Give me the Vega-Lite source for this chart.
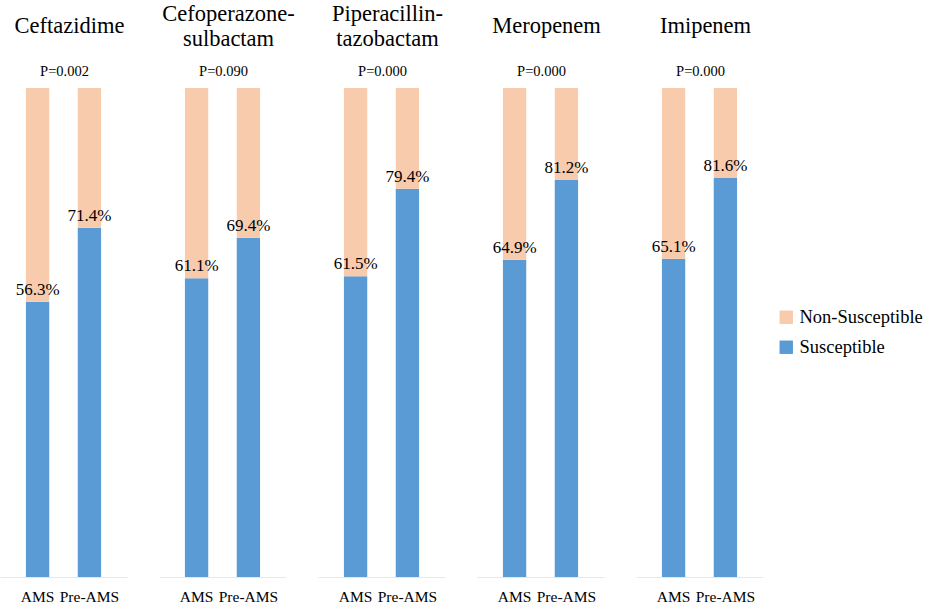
{
  "$schema": "https://vega.github.io/schema/vega-lite/v6.json",
  "padding": {"left": 0, "top": 3, "right": 0, "bottom": 0},
  "background": "white",
  "data": {
    "values": [
      {"drug": "Ceftazidime", "title": "Ceftazidime", "p": "P=0.002", "group": "AMS", "status": "Susceptible", "value": 0.563},
      {"drug": "Ceftazidime", "title": "Ceftazidime", "p": "P=0.002", "group": "AMS", "status": "Non-Susceptible", "value": 0.437},
      {"drug": "Ceftazidime", "title": "Ceftazidime", "p": "P=0.002", "group": "Pre-AMS", "status": "Susceptible", "value": 0.714},
      {"drug": "Ceftazidime", "title": "Ceftazidime", "p": "P=0.002", "group": "Pre-AMS", "status": "Non-Susceptible", "value": 0.286},
      {"drug": "Cefoperazone-sulbactam", "title": ["Cefoperazone-", "sulbactam"], "p": "P=0.090", "group": "AMS", "status": "Susceptible", "value": 0.611},
      {"drug": "Cefoperazone-sulbactam", "title": ["Cefoperazone-", "sulbactam"], "p": "P=0.090", "group": "AMS", "status": "Non-Susceptible", "value": 0.389},
      {"drug": "Cefoperazone-sulbactam", "title": ["Cefoperazone-", "sulbactam"], "p": "P=0.090", "group": "Pre-AMS", "status": "Susceptible", "value": 0.694},
      {"drug": "Cefoperazone-sulbactam", "title": ["Cefoperazone-", "sulbactam"], "p": "P=0.090", "group": "Pre-AMS", "status": "Non-Susceptible", "value": 0.306},
      {"drug": "Piperacillin-tazobactam", "title": ["Piperacillin-", "tazobactam"], "p": "P=0.000", "group": "AMS", "status": "Susceptible", "value": 0.615},
      {"drug": "Piperacillin-tazobactam", "title": ["Piperacillin-", "tazobactam"], "p": "P=0.000", "group": "AMS", "status": "Non-Susceptible", "value": 0.385},
      {"drug": "Piperacillin-tazobactam", "title": ["Piperacillin-", "tazobactam"], "p": "P=0.000", "group": "Pre-AMS", "status": "Susceptible", "value": 0.794},
      {"drug": "Piperacillin-tazobactam", "title": ["Piperacillin-", "tazobactam"], "p": "P=0.000", "group": "Pre-AMS", "status": "Non-Susceptible", "value": 0.206},
      {"drug": "Meropenem", "title": "Meropenem", "p": "P=0.000", "group": "AMS", "status": "Susceptible", "value": 0.649},
      {"drug": "Meropenem", "title": "Meropenem", "p": "P=0.000", "group": "AMS", "status": "Non-Susceptible", "value": 0.351},
      {"drug": "Meropenem", "title": "Meropenem", "p": "P=0.000", "group": "Pre-AMS", "status": "Susceptible", "value": 0.812},
      {"drug": "Meropenem", "title": "Meropenem", "p": "P=0.000", "group": "Pre-AMS", "status": "Non-Susceptible", "value": 0.188},
      {"drug": "Imipenem", "title": "Imipenem", "p": "P=0.000", "group": "AMS", "status": "Susceptible", "value": 0.651},
      {"drug": "Imipenem", "title": "Imipenem", "p": "P=0.000", "group": "AMS", "status": "Non-Susceptible", "value": 0.349},
      {"drug": "Imipenem", "title": "Imipenem", "p": "P=0.000", "group": "Pre-AMS", "status": "Susceptible", "value": 0.816},
      {"drug": "Imipenem", "title": "Imipenem", "p": "P=0.000", "group": "Pre-AMS", "status": "Non-Susceptible", "value": 0.184}
    ]
  },
  "facet": {
    "column": {
      "field": "drug",
      "type": "nominal",
      "sort": ["Ceftazidime", "Cefoperazone-sulbactam", "Piperacillin-tazobactam", "Meropenem", "Imipenem"],
      "header": null
    }
  },
  "bounds": "flush",
  "spacing": 32,
  "spec": {
    "width": 127,
    "height": 489,
    "layer": [
      {
        "mark": {"type": "bar"},
        "encoding": {
          "x": {
            "field": "group",
            "type": "nominal",
            "sort": ["AMS", "Pre-AMS"],
            "scale": {"paddingInner": 0.55, "paddingOuter": 0.5},
            "axis": {
              "title": null,
              "labelAngle": 0,
              "ticks": false,
              "domainColor": "#e8e8e8",
              "labelFont": "Times New Roman, Liberation Serif, DejaVu Serif, serif",
              "labelFontSize": 15.5,
              "labelColor": "black",
              "labelPadding": 12
            }
          },
          "y": {"field": "value", "type": "quantitative", "stack": "zero", "scale": {"domain": [0, 1], "nice": false}, "axis": null},
          "color": {
            "field": "status",
            "type": "nominal",
            "scale": {"domain": ["Non-Susceptible", "Susceptible"], "range": ["#F8CBAD", "#5B9BD5"]},
            "legend": {
              "orient": "none",
              "legendX": 777,
              "legendY": 220,
              "title": null,
              "symbolType": "square",
              "symbolSize": 180,
              "symbolStrokeWidth": 0,
              "labelFont": "Times New Roman, Liberation Serif, DejaVu Serif, serif",
              "labelFontSize": 18.5,
              "labelColor": "black",
              "rowPadding": 11
            }
          },
          "order": {"field": "status", "sort": "descending"}
        }
      },
      {
        "transform": [{"filter": "datum.status == 'Susceptible'"}],
        "mark": {"type": "text", "baseline": "alphabetic", "dy": -7, "font": "Times New Roman, Liberation Serif, DejaVu Serif, serif", "fontSize": 17, "color": "black"},
        "encoding": {
          "x": {"field": "group", "type": "nominal", "sort": ["AMS", "Pre-AMS"]},
          "y": {"field": "value", "type": "quantitative"},
          "text": {"field": "value", "type": "quantitative", "format": ".1%"}
        }
      },
      {
        "transform": [{"filter": "datum.status == 'Susceptible' && datum.group == 'AMS'"}],
        "mark": {"type": "text", "baseline": "alphabetic", "dy": -12, "dx": 1, "font": "Times New Roman, Liberation Serif, DejaVu Serif, serif", "fontSize": 14.5, "color": "black"},
        "encoding": {
          "y": {"datum": 1},
          "text": {"field": "p"}
        }
      },
      {
        "transform": [{"filter": "datum.status == 'Susceptible' && datum.group == 'AMS' && isArray(datum.title)"}],
        "mark": {"type": "text", "baseline": "alphabetic", "dy": -67, "dx": 6, "lineHeight": 24.5, "font": "Times New Roman, Liberation Serif, DejaVu Serif, serif", "fontSize": 22.5, "color": "black"},
        "encoding": {
          "y": {"datum": 1},
          "text": {"field": "title"}
        }
      },
      {
        "transform": [{"filter": "datum.status == 'Susceptible' && datum.group == 'AMS' && !isArray(datum.title)"}],
        "mark": {"type": "text", "baseline": "alphabetic", "dy": -55, "dx": 6, "font": "Times New Roman, Liberation Serif, DejaVu Serif, serif", "fontSize": 22.5, "color": "black"},
        "encoding": {
          "y": {"datum": 1},
          "text": {"field": "title"}
        }
      }
    ]
  },
  "config": {"view": {"stroke": null}}
}
